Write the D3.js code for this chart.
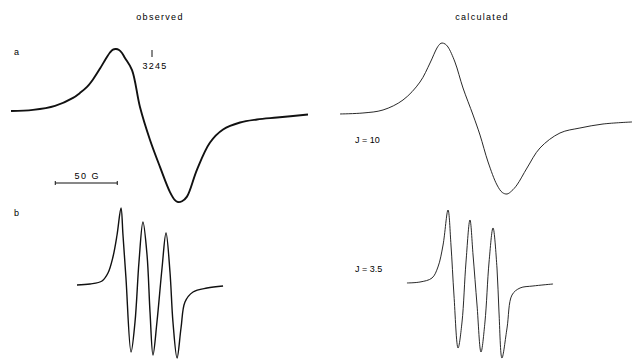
<!DOCTYPE html>
<html>
<head>
<meta charset="utf-8">
<script src="https://cdn.jsdelivr.net/npm/d3@7"></script>
<style>
  body { margin: 0; background: #fff; }
  svg text { font-family: "Liberation Sans", Arial, sans-serif; fill: #000; }
</style>
</head>
<body>
<div id="chart"></div>
<script>
// field offsets (G, relative to the 3245 G marker) and relative intensities
const obsAField = [-113.7, -96, -78.2, -63.7, -58.1, -52.4, -47.6, -41.9, -37.1, -33.9, -31.5, -29, -26.6, -24.2, -21.8, -16.1, -9.7, -1.6, 6.5, 14.5, 18.5, 21, 24.2, 28.2, 36.3, 46.8, 57.3, 71, 84.7, 100.8, 125.8];
const obsAInt   = [19, 20.4, 25.6, 36.1, 42.6, 50.4, 60.2, 74.5, 87.6, 95.4, 99.3, 100, 98.7, 94.8, 88.2, 72.5, 24.1, -19, -54.4, -87, -97.5, -100, -99, -93, -57.6, -22.3, -5.3, 3.9, 7.8, 10.4, 14.3];

const calcAField = [-112.9, -94.4, -78.2, -62.1, -48.4, -40.3, -34.7, -32.3, -30.6, -28.2, -25.8, -20.2, -13.7, -5.6, 0, 6.5, 13.7, 18, 21.8, 25.5, 29.8, 37.9, 48.4, 64.5, 80.6, 99.2, 122.6];
const calcAInt   = [6, 7.3, 11.3, 24.5, 48.3, 73.5, 93.4, 98.7, 100, 98.7, 94.7, 74.8, 40.4, 4.6, -21.9, -57.6, -88, -98, -100, -96, -88, -65.6, -39, -19.2, -12.6, -7.3, -4.6];

const obsBField = [-60.5, -50, -40.3, -35.5, -31.5, -28.2, -25, -23.4, -21, -16.9, -13.7, -10.5, -7.3, -4, -1.6, 0.8, 4, 8.1, 11.3, 14.5, 16.9, 20.2, 23.4, 26.6, 33.1, 44.4, 57.3];
const obsBInt   = [-2.7, -1.3, 2.7, 13.3, 34.7, 64, 100, 64, 6.7, -92, -52, 28, 81.3, 37.3, -38.7, -96, -52, 20, 66.7, 14.7, -52, -100, -60, -25.3, -12, -6.7, -4];

const calcBField = [-58.9, -48.4, -38.7, -33.9, -29.8, -25.8, -23.4, -21, -17.7, -14.5, -11.3, -8.1, -5.6, -2.4, 0.8, 4, 7.3, 10.5, 13.7, 15.3, 17.7, 21.8, 25.8, 32.3, 42.7, 58.9];
const calcBInt   = [1.4, 2.7, 8.1, 23, 52.7, 100, 52.7, -14.9, -86.5, -51.4, 29.7, 86.5, 39.2, -28.4, -91.9, -51.4, 29.7, 75.7, 21.6, -37.8, -100, -59.5, -14.9, -5.4, -2.7, 0];

const columnTitles = ["observed", "calculated"];
const panelLabels = ["a", "b"];
const jLabels = ["J = 10", "J = 3.5"];
const markerField = 3245;
const scaleBarG = 50;

const width = 632, height = 362;

const svg = d3.select("#chart")
    .append("svg")
    .attr("width", width)
    .attr("height", height);

// same field scale (1.24 px / G) for both columns, shifted
const xL = d3.scaleLinear().domain([0, 100]).range([152, 276]);
const xR = d3.scaleLinear().domain([0, 100]).range([480, 604]);

const yObsA = d3.scaleLinear().domain([-100, 100]).range([202, 49]);
const yCalcA = d3.scaleLinear().domain([-100, 100]).range([194, 43]);
const yObsB = d3.scaleLinear().domain([-100, 100]).range([358, 208]);
const yCalcB = d3.scaleLinear().domain([-100, 100]).range([358, 210]);

function drawTrace(fields, ints, x, y, sw) {
    const pts = fields.map((f, i) => [f, ints[i]]);
    const line = d3.line()
        .x(d => x(d[0]))
        .y(d => y(d[1]))
        .curve(d3.curveCatmullRom.alpha(0.5));
    svg.append("path")
        .datum(pts)
        .attr("d", line)
        .attr("fill", "none")
        .attr("stroke", "#111")
        .attr("stroke-width", sw)
        .attr("stroke-linejoin", "round");
}

drawTrace(obsAField, obsAInt, xL, yObsA, 1.9);
drawTrace(calcAField, calcAInt, xR, yCalcA, 0.9);
drawTrace(obsBField, obsBInt, xL, yObsB, 1.4);
drawTrace(calcBField, calcBInt, xR, yCalcB, 0.9);

// column titles
svg.selectAll("text.title")
    .data(columnTitles)
    .join("text")
    .attr("class", "title")
    .attr("x", (d, i) => i === 0 ? 160 : 482)
    .attr("y", 20)
    .attr("text-anchor", "middle")
    .attr("font-size", 9)
    .attr("letter-spacing", 1.3)
    .text(d => d);

// panel letters
svg.selectAll("text.panel")
    .data(panelLabels)
    .join("text")
    .attr("class", "panel")
    .attr("x", 14)
    .attr("y", (d, i) => i === 0 ? 55 : 216)
    .attr("font-size", 9)
    .text(d => d);

// J labels
svg.selectAll("text.jlab")
    .data(jLabels)
    .join("text")
    .attr("class", "jlab")
    .attr("x", 355)
    .attr("y", (d, i) => i === 0 ? 143 : 272)
    .attr("font-size", 9)
    .text(d => d);

// 3245 marker
svg.append("line")
    .attr("x1", xL(0)).attr("x2", xL(0))
    .attr("y1", 50).attr("y2", 57)
    .attr("stroke", "#111").attr("stroke-width", 1);
svg.append("text")
    .attr("x", xL(0) + 3)
    .attr("y", 69)
    .attr("text-anchor", "middle")
    .attr("font-size", 9)
    .attr("letter-spacing", 1.2)
    .text(markerField);

// 50 G scale bar
const barY = 183;
const barX0 = xL(-78), barX1 = xL(-78 + scaleBarG);
svg.append("line")
    .attr("x1", barX0).attr("x2", barX1)
    .attr("y1", barY).attr("y2", barY)
    .attr("stroke", "#111").attr("stroke-width", 1);
[barX0, barX1].forEach(x => {
    svg.append("line")
        .attr("x1", x).attr("x2", x)
        .attr("y1", barY - 2).attr("y2", barY + 2)
        .attr("stroke", "#111").attr("stroke-width", 1);
});
svg.append("text")
    .attr("x", (barX0 + barX1) / 2 + 1)
    .attr("y", 179)
    .attr("text-anchor", "middle")
    .attr("font-size", 9)
    .attr("letter-spacing", 1.5)
    .text(scaleBarG + " G");
</script>
</body>
</html>
